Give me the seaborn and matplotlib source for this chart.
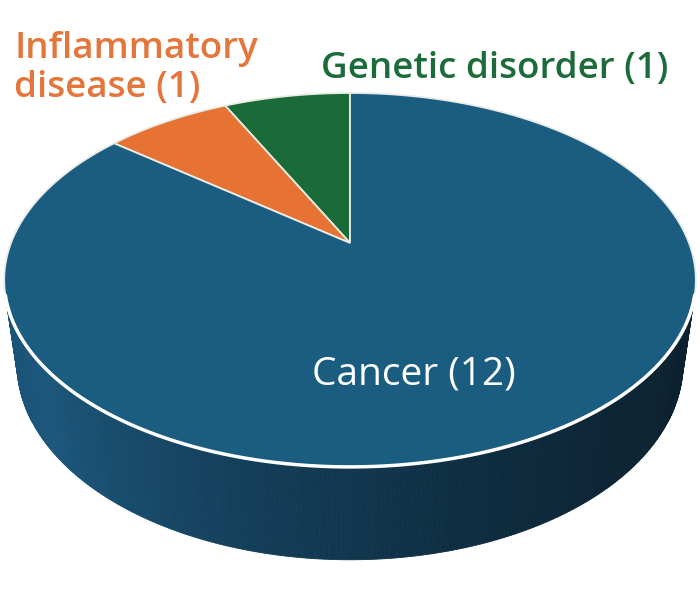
import numpy as np
import matplotlib.pyplot as plt
import seaborn as sns
from matplotlib.colors import LinearSegmentedColormap

# 1. Estilo
sns.set_theme(style="white")
plt.rcParams['font.family'] = ['Open Sans', 'DejaVu Sans']

# 2. Dados
categorias = ['Genetic disorder', 'Inflammatory disease', 'Cancer']
valores = [1, 1, 12]
rotulos = ['Genetic disorder (1)', 'Inflammatory\ndisease (1)', 'Cancer (12)']
cores = ['#1b6b38', '#e67234', '#1b5c81']
cores_texto = ['#1c6b3a', '#e4763b', 'white']

# 3. Perspectiva da pizza 3D
ALFA = np.radians(32)
DIST = 4.29
ESCALA = 339
CX, CY = 350, 243
ALTURA = 0.30


def projeta(x, y, z):
    c, s = np.cos(ALFA), np.sin(ALFA)
    prof = DIST + y * c - z * s
    sx = x * DIST / prof
    sy = (y * s + z * c) * DIST / prof
    return CX + ESCALA * sx, CY - ESCALA * sy


def borda(t0, t1, z=0.0, n=200):
    t = np.linspace(t0, t1, n)
    return projeta(np.cos(t), np.sin(t), z)


fig = plt.figure(figsize=(7, 6.16), dpi=100)
ax = fig.add_axes([0, 0, 1, 1])
ax.set_xlim(0, 700)
ax.set_ylim(616, 0)
ax.axis('off')

# angulos das fatias (sentido anti-horario a partir do topo)
fracoes = np.array(valores) / sum(valores)
limites = np.pi / 2 + np.concatenate([[0], np.cumsum(fracoes)]) * 2 * np.pi

# 4. Lateral (parte visivel do cilindro)
lim_vis = np.arcsin(1 / (DIST * np.cos(ALFA)))
v0, v1 = np.pi + lim_vis, 2 * np.pi - lim_vis
sombra = LinearSegmentedColormap.from_list(
    'sombra', [(0, '#1a5378'), (0.15, '#1b567b'), (0.4, '#143f5a'),
               (0.6, '#0f2e42'), (0.8, '#0c2434'), (1, '#0c202d')])
n = 240
ts = np.linspace(v0, v1, n + 1)
for i in range(n):
    xa, ya = projeta(np.cos(ts[i:i + 2]), np.sin(ts[i:i + 2]), 0)
    xb, yb = projeta(np.cos(ts[i:i + 2]), np.sin(ts[i:i + 2]), -ALTURA)
    cor = sombra(i / (n - 1))
    ax.fill([xa[0], xa[1], xb[1], xb[0]], [ya[0], ya[1], yb[1], yb[0]],
            color=cor, lw=0.6, ec=cor)

# 5. Topo (fatias)
for i, cor in enumerate(cores):
    bx, by = borda(limites[i], limites[i + 1])
    ax.fill(np.r_[CX, bx], np.r_[CY, by], color=cor, ec='#e8ece6', lw=1.3)

# linha branca na frente
bx, by = borda(v0, v1)
ax.plot(bx, by, color='white', lw=2.5, solid_capstyle='round')

# 6. Rotulos
ax.text(14, 97, rotulos[1], color=cores_texto[1], fontsize=26.5,
        fontweight='semibold', linespacing=1.12, ha='left', va='baseline')
ax.text(321, 78, rotulos[0], color=cores_texto[0], fontsize=26.5,
        fontweight='semibold', ha='left', va='baseline')
ax.text(312, 385, rotulos[2], color=cores_texto[2], fontsize=28,
        fontweight='medium', ha='left', va='baseline')

fig.savefig('out.png', dpi=100, facecolor='white')
